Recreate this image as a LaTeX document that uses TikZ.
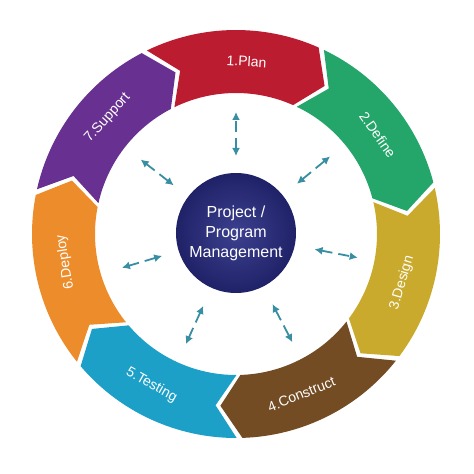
\documentclass[tikz,border=0pt]{standalone}
\usepackage{fontspec}
\setmainfont{Liberation Sans}
\usetikzlibrary{arrows.meta,positioning}

\definecolor{planred}{RGB}{188,28,48}
\definecolor{definegreen}{RGB}{36,166,106}
\definecolor{designgold}{RGB}{201,170,44}
\definecolor{constructbrown}{RGB}{116,76,36}
\definecolor{testingblue}{RGB}{28,160,200}
\definecolor{deployorange}{RGB}{236,140,42}
\definecolor{supportpurple}{RGB}{104,48,144}
\definecolor{pmnavy}{RGB}{32,34,104}
\definecolor{pmlight}{RGB}{60,64,142}
\definecolor{linkteal}{RGB}{56,142,162}

% one chevron of the ring: mid angle, colour
\newcommand{\phasearc}[2]{%
  \fill[#2] ({#1+24.9}:204) arc[start angle={#1+24.9}, end angle={#1-24.9}, radius=204]
    -- ({#1-31.9}:172.5) -- ({#1-24.9}:141)
    arc[start angle={#1-24.9}, end angle={#1+24.9}, radius=141]
    -- ({#1+17.9}:172.5) -- cycle;}

\begin{document}
\begin{tikzpicture}
    [x=1pt,y=1pt,
     stage/.style={text=white, inner sep=0pt, font=\fontsize{14}{16}\selectfont},
     pm/.style={circle, minimum size=120pt, inner sep=0pt, align=center, text=white,
       inner color=pmlight, outer color=pmnavy, font=\fontsize{16}{20}\selectfont},
     link/.style={arrows={Latex[length=8pt,width=8pt]-Latex[length=8pt,width=8pt]},
       draw=linkteal, line width=1.8pt, dash pattern=on 11pt off 6pt}]
    \useasboundingbox (-236,-240) rectangle (238,234);

    \phasearc{91}{planred}
    \phasearc{39.57}{definegreen}
    \phasearc{-11.86}{designgold}
    \phasearc{-63.29}{constructbrown}
    \phasearc{-114.71}{testingblue}
    \phasearc{-166.14}{deployorange}
    \phasearc{142.43}{supportpurple}

    \node[stage, rotate=-3.5] (plan) at (86.5:173) {1.Plan};
    \node[stage, rotate=-54.9] (define) at (35.07:173) {2.Define};
    \node[stage, rotate=73.6] (design) at (-16.36:173) {3.Design};
    \node[stage, rotate=22.2] (construct) at (-67.79:173) {4.Construct};
    \node[stage, rotate=-29.2] (testing) at (-119.21:173) {5.Testing};
    \node[stage, rotate=99.4] (deploy) at (189.36:173) {6.Deploy};
    \node[stage, rotate=47.9] (support) at (137.93:173) {7.Support};

    \node[pm] (pm) at (0,1) {Project /\\Program\\Management};

    \coordinate (in1) at (90:78);       \coordinate (out1) at (90:122);
    \coordinate (in2) at (39.5:79);     \coordinate (out2) at (39.5:122);
    \coordinate (in3) at (-11:80);      \coordinate (out3) at (-11:124);
    \coordinate (in4) at (-62.5:79);    \coordinate (out4) at (-62.5:122);
    \coordinate (in5) at (-114.5:79);   \coordinate (out5) at (-114.5:121);
    \coordinate (in6) at (-163.5:77);   \coordinate (out6) at (-163.5:119);
    \coordinate (in7) at (142:79);      \coordinate (out7) at (142:121);

    \draw[link] (in1) -- (out1);
    \draw[link] (in2) -- (out2);
    \draw[link] (in3) -- (out3);
    \draw[link] (in4) -- (out4);
    \draw[link] (in5) -- (out5);
    \draw[link] (in6) -- (out6);
    \draw[link] (in7) -- (out7);
\end{tikzpicture}
\end{document}
